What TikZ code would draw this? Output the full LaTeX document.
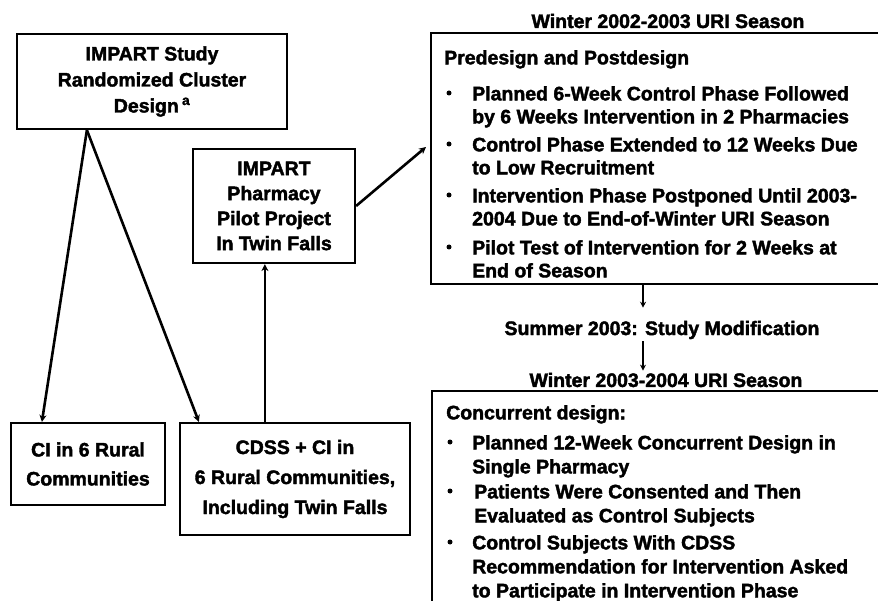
\documentclass[tikz,border=0pt]{standalone}
\usepackage{fontspec}
\setmainfont{Liberation Sans}[BoldFeatures={FakeBold=2}]
\usetikzlibrary{arrows.meta,calc}
\newcommand\tf{\fontsize{19.5}{23}\selectfont\bfseries}
\newcommand\tfb{\fontsize{19.5}{24}\selectfont\bfseries}
\tikzset{
  box/.style={draw, line width=2.2pt, align=center, font=\tf, inner sep=0pt},
  bigbox/.style={draw, line width=2pt, anchor=north west, inner sep=0pt},
  lbl/.style={font=\tf, inner sep=0pt},
  para/.style={font=\tf, inner sep=0pt, anchor=north west, align=left},
  parab/.style={font=\tfb, inner sep=0pt, anchor=north west, align=left},
  bdot/.style={circle, fill, inner sep=0pt, minimum size=5pt},
  conn/.style={line width=2.6pt, -{Stealth[length=7pt,width=7pt]}},
  thin/.style={line width=1.8pt, -{Stealth[length=6pt,width=6pt]}}
}
\begin{document}
\begin{tikzpicture}[x=1pt,y=-1pt]
\useasboundingbox (0,0) rectangle (878,601);
\clip (0,0) rectangle (878,601);

% left boxes
\node[box, minimum width=270pt, minimum height=95pt] (s) at (152,81.5)
  {IMPART Study\\[3pt]Randomized Cluster\\[3pt]Design\,\textsuperscript{a}};
\node[box, minimum width=162pt, minimum height=114pt] (pilot) at (274,206)
  {IMPART\\[2pt]Pharmacy\\[2pt]Pilot Project\\[2pt]In Twin Falls};
\node[box, minimum width=154pt, minimum height=82pt] (ci) at (88,464)
  {CI in 6 Rural\\[6pt]Communities};
\node[box, minimum width=230pt, minimum height=112pt] (cdss) at (295,479)
  {CDSS + CI in\\[7pt]6 Rural Communities,\\[7pt]Including Twin Falls};

% right column
\node[lbl] (t1) at (668,21) {Winter 2002-2003 URI Season};
\node[bigbox, minimum width=476pt, minimum height=251pt] (pre) at (430,32) {};
\node[para] (h1) at (444,50) {Predesign and Postdesign};
\node[bdot] (p1) at (449,93) {};
\node[para] (a1) at (472,86) {Planned 6-Week Control Phase Followed\\by 6 Weeks Intervention in 2 Pharmacies};
\node[bdot] (p2) at (449,144) {};
\node[para] (a2) at (472,137) {Control Phase Extended to 12 Weeks Due\\to Low Recruitment};
\node[bdot] (p3) at (449,195) {};
\node[para] (a3) at (472,188) {Intervention Phase Postponed Until 2003-\\2004 Due to End-of-Winter URI Season};
\node[bdot] (p4) at (449,247) {};
\node[para] (a4) at (472,240) {Pilot Test of Intervention for 2 Weeks at\\End of Season};

\node[lbl] (sm) at (662,330) {Summer 2003: Study Modification};
\node[lbl] (t2) at (666,380) {Winter 2003-2004 URI Season};
\node[bigbox, minimum width=476pt, minimum height=260pt] (post) at (431,390) {};
\node[para] (h2) at (446,405) {Concurrent design:};
\node[bdot] (q1) at (450,442) {};
\node[parab] (c1) at (472,435) {Planned 12-Week Concurrent Design in\\Single Pharmacy};
\node[bdot] (q2) at (450,491) {};
\node[parab] (c2) at (474,484) {Patients Were Consented and Then\\Evaluated as Control Subjects};
\node[bdot] (q3) at (450,542) {};
\node[parab] (c3) at (472,535) {Control Subjects With CDSS\\Recommendation for Intervention Asked\\to Participate in Intervention Phase};

% connectors
\coordinate (apex) at ($(s.south west)+(71,0)$);
\draw[conn] (apex) -- ($(ci.north west)+(32,0)$);
\draw[conn] (apex) -- ($(cdss.north west)+(20,0)$);
\coordinate (up) at ($(cdss.north west)+(86,0)$);
\draw[conn] (up) -- (up |- pilot.south);
\draw[conn] (pilot.east) -- ($(pre.north west)+(-4,115)$);
\coordinate (dx) at (643,0);
\draw[thin, shorten >=13pt] (pre.south -| dx) -- (sm.north -| dx);
\draw[thin, shorten <=2pt, shorten >=2pt] (sm.south -| dx) -- (t2.north -| dx);
\end{tikzpicture}
\end{document}
